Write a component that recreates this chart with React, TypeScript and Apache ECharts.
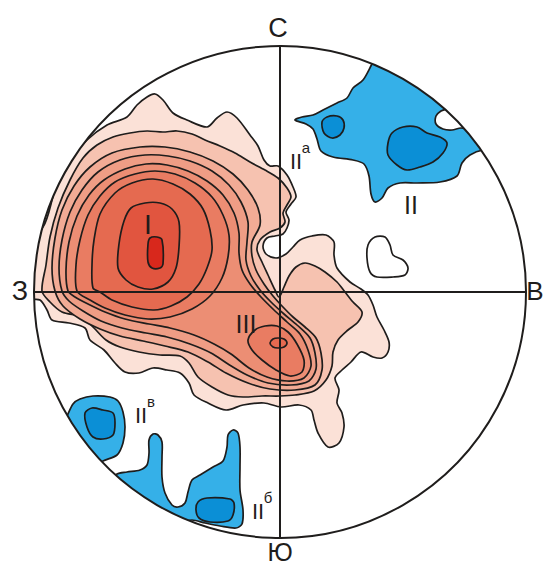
import { useEffect, useRef } from "react";
import * as echarts from "echarts";

// Pole-density stereonet. Net units: centre of the primitive circle at (0, 0),
// x to the east, y to the north, primitive radius R.
const R = 246;

type Pt = [number, number];

// Red density contours, from the outermost (lowest) level inwards
const RED_1: Pt[] = [
  [-237, 65], [-225, 102], [-213, 129], [-193, 152], [-173, 167], [-153, 175], [-143, 187], [-133, 195],
  [-125, 198], [-117, 192], [-107, 179], [-93, 172], [-73, 165], [-63, 174], [-53, 180], [-43, 174],
  [-30, 157], [-22, 146], [-16, 132], [-10, 126], [-2, 126], [7, 117], [13, 105], [16, 95], [11, 88],
  [6, 80], [9, 72], [7, 64], [3, 58], [-5, 56], [-13, 54], [-17, 46], [-14, 38], [-4, 34], [6, 38],
  [13, 45], [20, 52], [32, 56], [46, 57], [54, 50], [54, 37], [57, 24], [70, 10], [81, 3], [88, -3],
  [93, -13], [97, -25], [104, -38], [109, -50], [108, -60], [102, -66], [93, -65], [81, -60], [71, -70],
  [62, -78], [55, -86], [59, -98], [57, -111], [62, -121], [64, -135], [59, -151], [48, -155], [38, -141],
  [34, -128], [31, -118], [19, -113], [1, -115], [-16, -111], [-37, -113], [-54, -118], [-72, -111],
  [-86, -103], [-91, -91], [-100, -81], [-113, -78], [-127, -76], [-141, -81], [-155, -80], [-165, -71],
  [-176, -58], [-190, -48], [-195, -36], [-211, -31], [-228, -28], [-233, -18], [-240, -8], [-252, -6],
  [-252, 62],
];

const RED_2: Pt[] = [
  [-238, 1], [-234, 27], [-230, 55], [-222, 84], [-210, 112], [-197, 134], [-183, 147], [-167, 155],
  [-150, 159], [-133, 161], [-117, 160], [-103, 161], [-88, 158], [-75, 152], [-60, 146], [-45, 139],
  [-30, 130], [-15, 122], [-2, 114], [7, 104], [11, 95], [7, 87], [3, 79], [5, 70], [0, 64], [-10, 60],
  [-20, 52], [-23, 42], [-18, 30], [-12, 17], [-5, 2], [-1, -5], [4, 5], [9, 16], [16, 25], [25, 29],
  [35, 26], [45, 20], [57, 10], [65, 0], [73, -10], [82, -20], [78, -30], [68, -38], [58, -48], [53, -60],
  [52, -74], [46, -88], [34, -99], [15, -103], [0, -104], [-18, -104], [-37, -105], [-52, -103],
  [-68, -95], [-82, -85], [-91, -71], [-100, -64], [-120, -63], [-141, -60], [-160, -55], [-174, -48],
  [-186, -36], [-198, -25], [-218, -20], [-230, -10],
];

const RED_3: Pt[] = [
  [-225, 1], [-228, 24], [-225, 54], [-218, 82], [-206, 106], [-190, 125], [-168, 139], [-140, 145],
  [-115, 145], [-90, 140], [-67, 131], [-47, 118], [-32, 102], [-22, 84], [-20, 67], [-28, 50], [-28, 36],
  [-24, 22], [-16, 8], [-7, -4], [2, -14], [13, -25], [25, -35], [36, -46], [41, -61], [42, -78],
  [35, -93], [15, -98], [-10, -97], [-32, -91], [-54, -81], [-72, -70], [-92, -60], [-115, -54],
  [-137, -49], [-160, -44], [-180, -37], [-200, -27], [-217, -14],
];

const RED_4: Pt[] = [
  [-218, 1], [-221, 24], [-218, 52], [-210, 80], [-198, 102], [-182, 120], [-160, 132], [-135, 137],
  [-112, 136], [-90, 131], [-68, 121], [-51, 107], [-39, 90], [-32, 70], [-33, 50], [-34, 32], [-29, 16],
  [-20, 2], [-9, -10], [4, -22], [17, -33], [30, -46], [35, -61], [36, -77], [29, -89], [11, -93],
  [-12, -91], [-33, -83], [-52, -72], [-69, -61], [-90, -52], [-113, -45], [-134, -41], [-158, -36],
  [-179, -29], [-197, -19], [-211, -9],
];

const RED_5: Pt[] = [
  [-212, 1], [-214, 22], [-211, 50], [-203, 76], [-191, 97], [-176, 112], [-155, 123], [-134, 128],
  [-113, 127], [-92, 121], [-73, 111], [-57, 97], [-46, 79], [-41, 59], [-41, 39], [-38, 22], [-30, 8],
  [-19, -5], [-6, -18], [7, -30], [20, -42], [28, -58], [31, -74], [24, -86], [7, -89], [-13, -85],
  [-31, -76], [-49, -62], [-66, -52], [-86, -43], [-110, -36], [-131, -32], [-155, -27], [-175, -20],
  [-192, -12], [-205, -5],
];

// Maximum I (north-west)
const RED_6_I: Pt[] = [
  [-203, 1], [-204, 27], [-200, 52], [-192, 77], [-180, 96], [-165, 110], [-145, 118], [-125, 121],
  [-105, 118], [-85, 109], [-68, 95], [-57, 77], [-51, 57], [-52, 35], [-58, 14], [-70, -4], [-88, -17],
  [-110, -25], [-132, -27], [-155, -23], [-175, -16], [-190, -8],
];

const RED_7_I: Pt[] = [
  [-187, 4], [-188, 27], [-186, 52], [-180, 78], [-165, 99], [-148, 109], [-127, 113], [-107, 108],
  [-90, 98], [-77, 83], [-70, 62], [-68, 42], [-73, 24], [-81, 8], [-93, -5], [-109, -14], [-126, -18],
  [-148, -15], [-168, -8], [-180, 0],
];

const RED_8_I: Pt[] = [
  [-162, 24], [-161, 48], [-156, 71], [-149, 84], [-135, 89], [-120, 89], [-108, 83], [-101, 70],
  [-101, 45], [-104, 24], [-112, 10], [-127, 3], [-142, 5], [-154, 12],
];

const RED_9_I: Pt[] = [
  [-132, 48], [-130, 54], [-123, 55], [-118, 52], [-117, 28], [-120, 24], [-128, 24], [-132, 30],
];

// Maximum III (centre-south)
const RED_6_III: Pt[] = [
  [-32, -48], [-25, -38], [-15, -34], [-3, -34], [8, -40], [17, -52], [24, -68], [22, -80], [10, -84],
  [-4, -78], [-18, -68], [-28, -58],
];

const RED_7_III: Pt[] = [
  [-10, -51], [-7, -47], [-2, -46], [4, -47], [7, -51], [4, -55], [-2, -56], [-7, -55],
];

// Blue (low-density) fields II, IIa, IIб, IIв
const BLUE_II: Pt[] = [
  [100, 242], [92, 228], [83, 212], [73, 204], [67, 194], [57, 189], [43, 182], [33, 177], [22, 175],
  [15, 172], [26, 168], [33, 163], [37, 153], [41, 141], [53, 135], [73, 132], [84, 128], [89, 116],
  [91, 98], [95, 90], [102, 94], [108, 104], [120, 109], [137, 109], [160, 110], [177, 116], [182, 129],
  [190, 137], [203, 142], [220, 142], [220, 242],
];
const BLUE_II_GAP: Pt[] = [
  [156, 168], [156, 176], [161, 181], [167, 183], [172, 185], [195, 187], [195, 162], [181, 164],
  [172, 162], [163, 163],
];
const BLUE_II_CORE_A: Pt[] = [
  [42, 170], [47, 175], [57, 176], [63, 172], [64, 164], [60, 157], [52, 154], [44, 159],
];
const BLUE_II_CORE: Pt[] = [
  [112, 159], [123, 165], [137, 165], [147, 159], [160, 155], [167, 149], [163, 139], [153, 130],
  [140, 125], [127, 122], [117, 127], [108, 137], [108, 149],
];
const EMPTY_EAST: Pt[] = [
  [88, 47], [95, 55], [105, 55], [110, 47], [113, 37], [123, 32], [128, 24], [125, 17], [113, 15],
  [97, 15], [90, 20], [87, 34],
];
const BLUE_IIV: Pt[] = [
  [-207, -112], [-200, -107], [-187, -104], [-170, -105], [-162, -109], [-157, -120], [-155, -135],
  [-157, -151], [-163, -163], [-177, -169], [-185, -174], [-222, -138], [-214, -126],
];
const BLUE_IIV_CORE: Pt[] = [
  [-195, -121], [-188, -116], [-177, -118], [-167, -121], [-165, -131], [-167, -143], [-177, -147],
  [-187, -145], [-193, -135],
];
const BLUE_IIB: Pt[] = [
  [-163, -182], [-153, -180], [-140, -178], [-133, -173], [-131, -161], [-131, -148], [-127, -142],
  [-122, -143], [-118, -150], [-118, -165], [-118, -185], [-115, -201], [-108, -213], [-102, -215],
  [-95, -211], [-92, -200], [-88, -188], [-80, -183], [-67, -175], [-57, -169], [-53, -155], [-52, -143],
  [-47, -138], [-42, -141], [-40, -155], [-40, -175], [-40, -198], [-37, -218], [-38, -232], [-44, -236],
  [-60, -234], [-75, -231], [-88, -228], [-100, -230], [-170, -190],
];
const BLUE_IIB_CORE: Pt[] = [
  [-82, -210], [-73, -206], [-50, -207], [-46, -211], [-47, -223], [-52, -229], [-70, -230],
  [-81, -226], [-84, -218],
];

// Annotations: text and anchor in net units
const CARDINALS: { text: string; at: Pt }[] = [
  { text: "С", at: [-2, 264] },
  { text: "Ю", at: [0, -260] },
  { text: "З", at: [-260, 1] },
  { text: "В", at: [255, 1] },
];
const MAXIMA: { text: string; at: Pt }[] = [
  { text: "I", at: [-132, 68] },
  { text: "III", at: [-34, -32] },
  { text: "II", at: [131, 87] },
  { text: "II", at: [16, 131] },
  { text: "II", at: [-139, -123] },
  { text: "II", at: [-22, -219] },
];
const INDICES: { text: string; at: Pt }[] = [
  { text: "а", at: [26, 145] },
  { text: "в", at: [-129, -109] },
  { text: "б", at: [-12, -205] },
];

const INK = "#1f1d1c";
const FONT = "'Liberation Sans', Arial, sans-serif";

export default function App() {
  const ref = useRef<HTMLDivElement>(null);

  useEffect(() => {
    if (!ref.current) return;
    const chart = echarts.init(ref.current, null, { renderer: "svg" });

    const layers: { pts: Pt[]; fill: string }[] = [
      { pts: RED_1, fill: "#fbe1d7" },
      { pts: RED_2, fill: "#f6c2b0" },
      { pts: RED_3, fill: "#f2ab95" },
      { pts: RED_4, fill: "#ef9d85" },
      { pts: RED_5, fill: "#ec8e74" },
      { pts: RED_6_I, fill: "#e97c62" },
      { pts: RED_7_I, fill: "#e56a50" },
      { pts: RED_8_I, fill: "#e1553f" },
      { pts: RED_9_I, fill: "#d8281c" },
      { pts: RED_6_III, fill: "#e97c62" },
      { pts: RED_7_III, fill: "#e56a50" },
      { pts: BLUE_II, fill: "#35b0e8" },
      { pts: BLUE_II_GAP, fill: "#ffffff" },
      { pts: BLUE_II_CORE_A, fill: "#0b8fd6" },
      { pts: BLUE_II_CORE, fill: "#0b8fd6" },
      { pts: EMPTY_EAST, fill: "#ffffff" },
      { pts: BLUE_IIV, fill: "#35b0e8" },
      { pts: BLUE_IIV_CORE, fill: "#0b8fd6" },
      { pts: BLUE_IIB, fill: "#35b0e8" },
      { pts: BLUE_IIB_CORE, fill: "#0b8fd6" },
    ];

    const cardinalSize: Record<string, number> = { "С": 27, "Ю": 25, "З": 27, "В": 26 };
    const texts = [
      ...CARDINALS.map((c) => ({ ...c, size: cardinalSize[c.text] })),
      ...MAXIMA.map((m, i) => ({ ...m, size: i === 0 ? 28 : i === 1 ? 25 : i === 2 ? 25 : 22 })),
      ...INDICES.map((s) => ({ ...s, size: 15 })),
    ];

    chart.setOption({
      animation: false,
      backgroundColor: "#ffffff",
      grid: { left: 34, top: 46, width: 2 * R, height: 2 * R },
      xAxis: { type: "value", min: -R, max: R, show: false },
      yAxis: { type: "value", min: -R, max: R, show: false },
      series: [
        {
          type: "custom",
          name: "contours",
          silent: true,
          z: 1,
          data: layers.map(() => [0, 0]),
          renderItem: (params: any, api: any) => {
            const layer = layers[params.dataIndex];
            return {
              type: "polygon",
              shape: { points: layer.pts.map((p) => api.coord(p)), smooth: 0.3 },
              style: { fill: layer.fill, stroke: INK, lineWidth: 1.7, lineJoin: "round" },
            };
          },
        },
        {
          type: "custom",
          name: "net",
          silent: true,
          z: 5,
          data: [[0, 0]],
          renderItem: (_params: any, api: any) => {
            const [cx, cy] = api.coord([0, 0]);
            const r = api.size([R, R])[0];
            const west = api.coord([-R, 0]);
            const east = api.coord([R, 0]);
            const north = api.coord([0, R]);
            const south = api.coord([0, -R]);
            return {
              type: "group",
              children: [
                { type: "ring", shape: { cx, cy, r: r * 3, r0: r }, style: { fill: "#ffffff" } },
                { type: "line", shape: { x1: west[0], y1: west[1], x2: east[0], y2: east[1] }, style: { stroke: INK, lineWidth: 2 } },
                { type: "line", shape: { x1: north[0], y1: north[1], x2: south[0], y2: south[1] }, style: { stroke: INK, lineWidth: 2 } },
                { type: "circle", shape: { cx, cy, r }, style: { fill: "none", stroke: INK, lineWidth: 2 } },
              ],
            };
          },
        },
        {
          type: "custom",
          name: "labels",
          silent: true,
          z: 6,
          data: texts.map((t) => t.at),
          renderItem: (params: any, api: any) => {
            const t = texts[params.dataIndex];
            const [x, y] = api.coord([api.value(0), api.value(1)]);
            return {
              type: "text",
              x,
              y,
              style: {
                text: t.text,
                fontSize: t.size,
                fontFamily: FONT,
                fill: INK,
                align: "center",
                verticalAlign: "middle",
              },
            };
          },
        },
      ],
    });

    return () => chart.dispose();
  }, []);

  return (
    <div
      ref={ref}
      style={{ position: "absolute", left: 0, top: 0, width: 544, height: 568, background: "#fff" }}
    />
  );
}
